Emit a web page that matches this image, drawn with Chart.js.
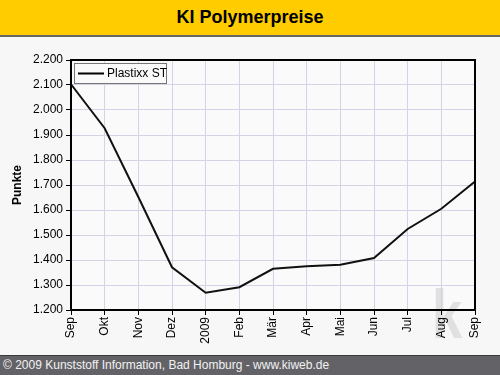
<!DOCTYPE html>
<html>
<head>
<meta charset="utf-8">
<script src="https://cdn.jsdelivr.net/npm/chart.js@4/dist/chart.umd.min.js"></script>
<style>
  html, body { margin: 0; padding: 0; }
  body { width: 500px; height: 375px; background: #f7f7f7; position: relative; overflow: hidden; font-family: "Liberation Sans", Arial, sans-serif; }
  #title { position: absolute; left: 0; top: 0; width: 500px; height: 35px; background: #ffcc00; border-bottom: 2px solid #666; text-align: center; font-weight: bold; font-size: 18px; line-height: 35px; color: #000; }
  #wrap { position: absolute; left: 0; top: 37px; width: 500px; height: 318px; }
  #footer { position: absolute; left: 0; top: 355px; width: 500px; height: 20px; background: #636367; border-top: 1px solid #3a3a3a; color: #f2f2f2; font-size: 12px; line-height: 19px; padding-left: 3px; box-sizing: border-box; }
</style>
</head>
<body>
<div id="title">KI Polymerpreise</div>
<div id="wrap"><canvas id="chart"></canvas></div>
<div id="footer">© 2009 Kunststoff Information, Bad Homburg - www.kiweb.de</div>
<script>
// month labels, Sep 2008 .. Sep 2009
const months = ['Sep', 'Okt', 'Nov', 'Dez', '2009', 'Feb', 'Mär', 'Apr', 'Mai', 'Jun', 'Jul', 'Aug', 'Sep'];
const seriesName = 'Plastixx ST';
const plastixx = [2103, 1927, 1652, 1371, 1269, 1291, 1365, 1375, 1381, 1408, 1524, 1605, 1714];

const yMin = 1200;
const yMax = 2200;
const yStep = 100;

// 2200 -> "2.200"
const fmt = (v) => Math.floor(v / 1000) + '.' + String(v % 1000).padStart(3, '0');

const font = "'Liberation Sans', Arial, sans-serif";

// plot background, black frame, legend box and watermark
const decorations = {
  id: 'decorations',
  beforeDraw(chart) {
    const { ctx, chartArea: a } = chart;
    ctx.save();
    ctx.fillStyle = '#fafafa';
    ctx.fillRect(a.left, a.top, a.right - a.left, a.bottom - a.top);
    // watermark "k"
    ctx.fillStyle = '#e0e0e0';
    ctx.translate(432, 301);
    ctx.scale(0.8, 1);
    ctx.font = 'bold 68px ' + font;
    ctx.textBaseline = 'alphabetic';
    ctx.fillText('k', 0, 0);
    ctx.restore();
  },
  afterDraw(chart) {
    const { ctx, chartArea: a } = chart;
    ctx.save();
    ctx.strokeStyle = '#000';
    ctx.lineWidth = 2;
    ctx.strokeRect(a.left, a.top, a.right - a.left, a.bottom - a.top);
    // legend
    const lx = a.left + 3, ly = a.top + 3, lw = 92, lh = 20;
    ctx.fillStyle = '#fafafa';
    ctx.fillRect(lx, ly, lw, lh);
    ctx.strokeStyle = '#777';
    ctx.lineWidth = 1;
    ctx.strokeRect(lx + 0.5, ly + 0.5, lw, lh);
    ctx.strokeStyle = '#000';
    ctx.lineWidth = 2;
    ctx.beginPath();
    ctx.moveTo(lx + 4, ly + 10.5);
    ctx.lineTo(lx + 30, ly + 10.5);
    ctx.stroke();
    ctx.fillStyle = '#000';
    ctx.font = '12px ' + font;
    ctx.textBaseline = 'middle';
    ctx.fillText(chart.data.datasets[0].label, lx + 33, ly + 11);
    ctx.restore();
  }
};

new Chart(document.getElementById('chart'), {
  type: 'line',
  data: {
    labels: months,
    datasets: [{
      label: seriesName,
      data: plastixx,
      borderColor: '#111',
      borderWidth: 2,
      pointRadius: 0,
      tension: 0,
      fill: false
    }]
  },
  options: {
    responsive: true,
    maintainAspectRatio: false,
    animation: false,
    layout: { padding: { top: 23, right: 25, left: 0, bottom: 0 } },
    plugins: {
      legend: { display: false },
      tooltip: { enabled: false }
    },
    scales: {
      x: {
        offset: false,
        grid: { color: '#d4d2e4', tickColor: '#000', tickLength: 5, lineWidth: 1 },
        border: { color: '#000', width: 2 },
        ticks: { color: '#000', font: { family: font, size: 12 }, minRotation: 90, maxRotation: 90, autoSkip: false, padding: 2 },
        afterFit(scale) { scale.height = 45; }
      },
      y: {
        min: yMin,
        max: yMax,
        grid: { color: '#d4d2e4', tickColor: '#000', tickLength: 5, lineWidth: 1 },
        border: { color: '#000', width: 2 },
        ticks: { stepSize: yStep, color: '#000', font: { family: font, size: 12 }, padding: 3, callback: (v) => fmt(v) },
        title: { display: true, text: 'Punkte', color: '#000', font: { family: font, size: 12, weight: 'bold' }, padding: { top: 10, bottom: 4 } },
        afterFit(scale) { scale.width = 71; }
      }
    }
  },
  plugins: [decorations]
});
</script>
</body>
</html>
